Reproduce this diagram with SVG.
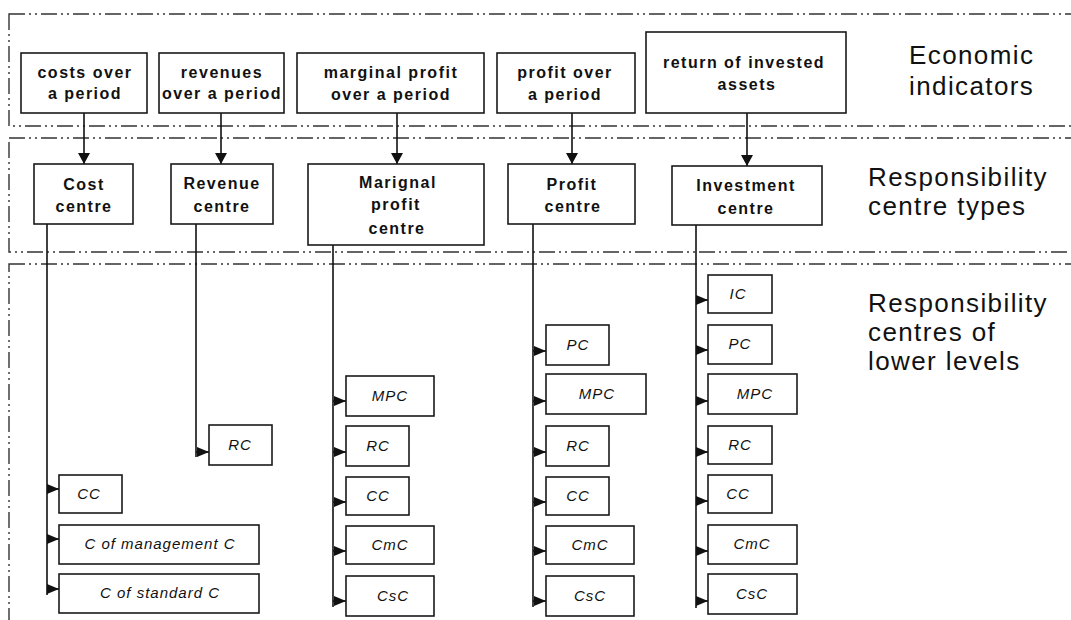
<svg xmlns="http://www.w3.org/2000/svg" width="1071" height="620" viewBox="0 0 1071 620">
<style>
.band{fill:none;stroke:#333;stroke-width:1.4;stroke-dasharray:16 4 2 4 2 4}
.box{fill:#fff;stroke:#1a1a1a;stroke-width:1.6}
.t{font-family:"Liberation Sans",Arial,sans-serif;font-weight:bold;font-size:16px;letter-spacing:1.5px;text-anchor:middle;fill:#111}
.s{font-family:"Liberation Sans",Arial,sans-serif;font-style:italic;font-size:15px;letter-spacing:1px;text-anchor:middle;fill:#111}
.lab{font-family:"Liberation Sans",Arial,sans-serif;font-size:26px;letter-spacing:1.4px;fill:#111}
.c{fill:none;stroke:#111;stroke-width:1.6}
</style>
<defs>
<marker id="ar" markerWidth="12" markerHeight="10" refX="12" refY="5" orient="auto" markerUnits="userSpaceOnUse"><path d="M0,0 L12,5 L0,10 z" fill="#111"/></marker>
<marker id="ad" markerWidth="11" markerHeight="12" refX="11" refY="6" orient="auto" markerUnits="userSpaceOnUse"><path d="M0,0 L11,6 L0,12 z" fill="#111"/></marker>
</defs>
<rect width="1071" height="620" fill="#fff"/>
<g id="bands">
<rect class="band" x="9" y="14" width="1080" height="112"/>
<rect class="band" x="9" y="138" width="1080" height="114"/>
<rect class="band" x="9" y="264" width="1080" height="380"/>
</g>
<g id="labels">
<text class="lab" x="909" y="64">Economic</text>
<text class="lab" x="909" y="95">indicators</text>
<text class="lab" x="868" y="186">Responsibility</text>
<text class="lab" x="868" y="215">centre types</text>
<text class="lab" x="868" y="312">Responsibility</text>
<text class="lab" x="868" y="341">centres of</text>
<text class="lab" x="868" y="370">lower levels</text>
</g>
<g id="connectors">
<path class="c" d="M84 113 V164" marker-end="url(#ad)"/>
<path class="c" d="M221 113 V164" marker-end="url(#ad)"/>
<path class="c" d="M397 113 V164" marker-end="url(#ad)"/>
<path class="c" d="M572 113 V164" marker-end="url(#ad)"/>
<path class="c" d="M747 113 V166" marker-end="url(#ad)"/>
<path class="c" d="M47 224 V595"/>
<path class="c" d="M196 224 V457"/>
<path class="c" d="M333 245 V607"/>
<path class="c" d="M533 224 V607"/>
<path class="c" d="M696 225 V608"/>
<path class="c" d="M47 489 H59" marker-end="url(#ar)"/>
<path class="c" d="M47 539 H59" marker-end="url(#ar)"/>
<path class="c" d="M47 589 H59" marker-end="url(#ar)"/>
<path class="c" d="M196 452 H209" marker-end="url(#ar)"/>
<path class="c" d="M333 401 H346" marker-end="url(#ar)"/>
<path class="c" d="M333 452 H346" marker-end="url(#ar)"/>
<path class="c" d="M333 502 H346" marker-end="url(#ar)"/>
<path class="c" d="M333 551 H346" marker-end="url(#ar)"/>
<path class="c" d="M333 601 H346" marker-end="url(#ar)"/>
<path class="c" d="M533 351 H546" marker-end="url(#ar)"/>
<path class="c" d="M533 401 H546" marker-end="url(#ar)"/>
<path class="c" d="M533 452 H546" marker-end="url(#ar)"/>
<path class="c" d="M533 502 H546" marker-end="url(#ar)"/>
<path class="c" d="M533 551 H546" marker-end="url(#ar)"/>
<path class="c" d="M533 601 H546" marker-end="url(#ar)"/>
<path class="c" d="M696 300 H708" marker-end="url(#ar)"/>
<path class="c" d="M696 350 H708" marker-end="url(#ar)"/>
<path class="c" d="M696 401 H708" marker-end="url(#ar)"/>
<path class="c" d="M696 452 H708" marker-end="url(#ar)"/>
<path class="c" d="M696 501 H708" marker-end="url(#ar)"/>
<path class="c" d="M696 551 H708" marker-end="url(#ar)"/>
<path class="c" d="M696 601 H708" marker-end="url(#ar)"/>
</g>
<g id="ind-costs"><rect class="box" x="21" y="53" width="126" height="60"/><text class="t" x="85" y="78">costs over</text><text class="t" x="85" y="99">a period</text></g>
<g id="ind-revenues"><rect class="box" x="159" y="53" width="125" height="60"/><text class="t" x="222" y="78">revenues</text><text class="t" x="222" y="99">over a period</text></g>
<g id="ind-marginal"><rect class="box" x="297" y="53" width="187" height="60"/><text class="t" x="391" y="78">marginal profit</text><text class="t" x="391" y="100">over a period</text></g>
<g id="ind-profit"><rect class="box" x="497" y="53" width="138" height="60"/><text class="t" x="565" y="78">profit over</text><text class="t" x="565" y="100">a period</text></g>
<g id="ind-return"><rect class="box" x="646" y="32" width="200" height="81"/><text class="t" x="744" y="68">return of invested</text><text class="t" x="747" y="90">assets</text></g>
<g id="cost-centre"><rect class="box" x="34" y="164" width="99" height="60"/><text class="t" x="84" y="190">Cost</text><text class="t" x="84" y="212">centre</text></g>
<g id="revenue-centre"><rect class="box" x="171" y="164" width="102" height="60"/><text class="t" x="222" y="189">Revenue</text><text class="t" x="222" y="212">centre</text></g>
<g id="marginal-centre"><rect class="box" x="308" y="164" width="176" height="81"/><text class="t" x="398" y="188">Marignal</text><text class="t" x="396" y="210">profit</text><text class="t" x="397" y="234">centre</text></g>
<g id="profit-centre"><rect class="box" x="508" y="164" width="127" height="60"/><text class="t" x="572" y="190">Profit</text><text class="t" x="573" y="212">centre</text></g>
<g id="investment-centre"><rect class="box" x="672" y="166" width="150" height="59"/><text class="t" x="746" y="191">Investment</text><text class="t" x="746" y="214">centre</text></g>
<g id="cc-cc"><rect class="box" x="59" y="475" width="63" height="38"/><text class="s" x="89" y="499">CC</text></g>
<g id="cc-mgmt"><rect class="box" x="59" y="525" width="200" height="39"/><text class="s" x="160" y="549">C of management C</text></g>
<g id="cc-std"><rect class="box" x="59" y="574" width="200" height="39"/><text class="s" x="160" y="598">C of standard C</text></g>
<g id="rc-rc"><rect class="box" x="209" y="425" width="63" height="40"/><text class="s" x="240" y="450">RC</text></g>
<g id="mp-mpc"><rect class="box" x="346" y="376" width="88" height="40"/><text class="s" x="390" y="401">MPC</text></g>
<g id="mp-rc"><rect class="box" x="346" y="426" width="63" height="40"/><text class="s" x="378" y="451">RC</text></g>
<g id="mp-cc"><rect class="box" x="346" y="477" width="63" height="38"/><text class="s" x="378" y="501">CC</text></g>
<g id="mp-cmc"><rect class="box" x="346" y="526" width="88" height="38"/><text class="s" x="390" y="550">CmC</text></g>
<g id="mp-csc"><rect class="box" x="346" y="576" width="88" height="40"/><text class="s" x="393" y="601">CsC</text></g>
<g id="p-pc"><rect class="box" x="546" y="325" width="63" height="40"/><text class="s" x="578" y="350">PC</text></g>
<g id="p-mpc"><rect class="box" x="546" y="374" width="100" height="40"/><text class="s" x="597" y="399">MPC</text></g>
<g id="p-rc"><rect class="box" x="546" y="426" width="63" height="40"/><text class="s" x="578" y="451">RC</text></g>
<g id="p-cc"><rect class="box" x="546" y="477" width="63" height="38"/><text class="s" x="578" y="501">CC</text></g>
<g id="p-cmc"><rect class="box" x="546" y="526" width="88" height="38"/><text class="s" x="590" y="550">CmC</text></g>
<g id="p-csc"><rect class="box" x="546" y="576" width="88" height="40"/><text class="s" x="590" y="601">CsC</text></g>
<g id="i-ic"><rect class="box" x="708" y="275" width="64" height="38"/><text class="s" x="738" y="299">IC</text></g>
<g id="i-pc"><rect class="box" x="708" y="325" width="64" height="39"/><text class="s" x="740" y="349">PC</text></g>
<g id="i-mpc"><rect class="box" x="708" y="374" width="89" height="40"/><text class="s" x="755" y="399">MPC</text></g>
<g id="i-rc"><rect class="box" x="708" y="426" width="64" height="38"/><text class="s" x="740" y="450">RC</text></g>
<g id="i-cc"><rect class="box" x="708" y="475" width="64" height="38"/><text class="s" x="738" y="499">CC</text></g>
<g id="i-cmc"><rect class="box" x="708" y="525" width="89" height="39"/><text class="s" x="752" y="549">CmC</text></g>
<g id="i-csc"><rect class="box" x="708" y="574" width="89" height="40"/><text class="s" x="752" y="599">CsC</text></g>
</svg>
